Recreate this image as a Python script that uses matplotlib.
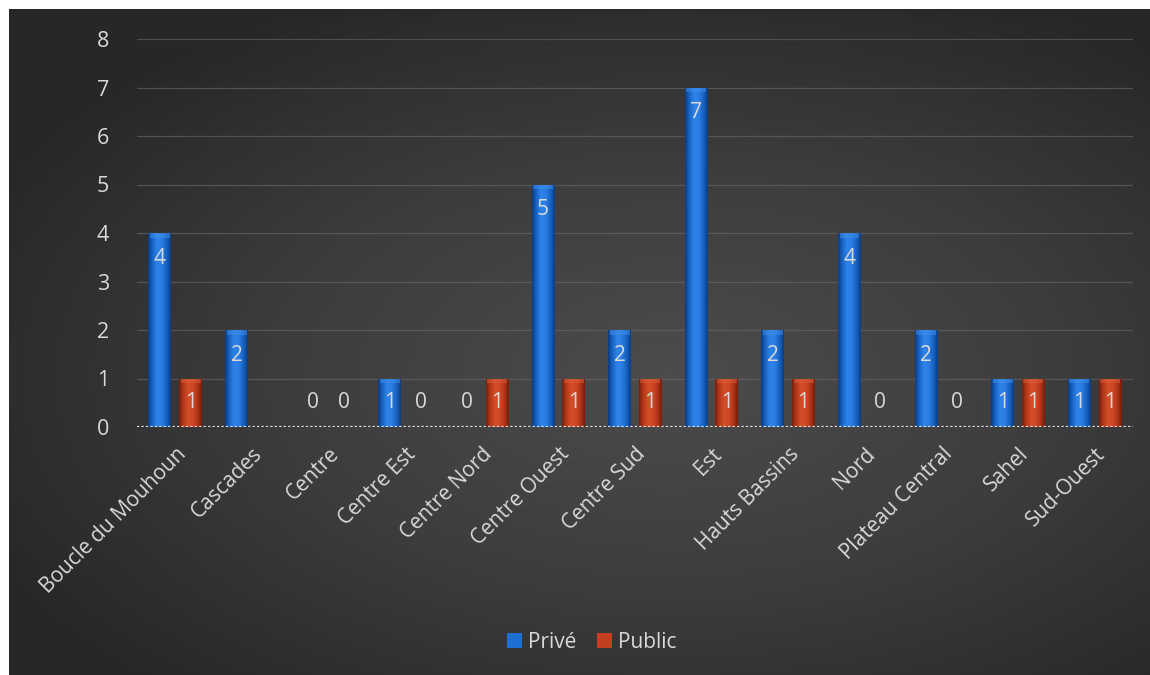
import numpy as np
import matplotlib.pyplot as plt
from matplotlib.colors import LinearSegmentedColormap

# Répartition par région (None = pas de valeur)
regions = ["Boucle du Mouhoun", "Cascades", "Centre", "Centre Est", "Centre Nord",
           "Centre Ouest", "Centre Sud", "Est", "Hauts Bassins", "Nord",
           "Plateau Central", "Sahel", "Sud-Ouest"]
prive = [4, 2, 0, 1, 0, 5, 2, 7, 2, 4, 2, 1, 1]
public = [1, None, 0, 0, 1, 1, 1, 1, 1, 0, 0, 1, 1]

TEXT = "#d9d9d9"
plt.rcParams["font.family"] = ["Open Sans", "DejaVu Sans"]

fig = plt.figure(figsize=(11.5, 6.75), dpi=100)
fig.patch.set_facecolor("white")

# dark radial gradient background
bg = fig.add_axes([9 / 1150, 0, 1 - 9 / 1150, 1 - 9 / 675])
bg.set_axis_off()
yy, xx = np.mgrid[0:1:300j, 0:1:500j]
r = np.sqrt(((xx - 0.58) / 0.9) ** 2 + ((yy - 0.55) / 0.85) ** 2)
bg_cmap = LinearSegmentedColormap.from_list("bg", ["#4c4c4c", "#3d3d3d", "#272727"])
bg.imshow(r, cmap=bg_cmap, aspect="auto", extent=[0, 1, 0, 1], vmin=0, vmax=0.75)
bg.set_xlim(0, 1)
bg.set_ylim(0, 1)

ax = fig.add_axes([137 / 1150, (675 - 427) / 675, (1133 - 137) / 1150, (427 - 39) / 675])
ax.patch.set_alpha(0)

x = np.arange(len(regions))
w = 0.3
off = 0.2

blue_cmap = LinearSegmentedColormap.from_list(
    "b", ["#0a3c84", "#1a66c8", "#2f84ea", "#2b7de4", "#1a64c4", "#0b3d84"])
red_cmap = LinearSegmentedColormap.from_list(
    "r", ["#7a1f0b", "#b83a1a", "#d44f29", "#ce4825", "#b3371a", "#781d0a"])

prive_h = [np.nan if v is None else v for v in prive]
public_h = [np.nan if v is None else v for v in public]
bars_p = ax.bar(x - off, prive_h, w, color="#1f6fd2", zorder=3, label="Privé")
bars_u = ax.bar(x + off, public_h, w, color="#c2401e", zorder=3, label="Public")

grad = np.linspace(0, 1, 64).reshape(1, -1)
for bars, cmap, top in ((bars_p, blue_cmap, "#3f90ec"), (bars_u, red_cmap, "#d85e3a")):
    for b in bars:
        h = b.get_height()
        if not h > 0:
            continue
        x0 = b.get_x()
        x1 = x0 + b.get_width()
        im = ax.imshow(grad, cmap=cmap, aspect="auto", extent=[x0, x1, 0, h], zorder=4)
        im.set_clip_path(b)
        # soft bevel at the top of each bar
        ax.fill_between([x0 + 0.02, x1 - 0.02], h - 0.1, h - 0.01, color=top,
                        alpha=0.5, zorder=5, linewidth=0)

# value labels near the top of each bar
for bars, vals in ((bars_p, prive), (bars_u, public)):
    for b, v in zip(bars, vals):
        if v is None:
            continue
        cx = b.get_x() + b.get_width() / 2
        ax.text(cx, max(v - 0.52, 0.5), str(v), ha="center", va="center",
                color=TEXT, fontsize=15, zorder=6)

ax.set_xlim(-0.5, len(regions) - 0.5)
ax.set_ylim(0, 8)
ax.set_yticks(range(0, 9))
ax.grid(axis="y", color="#6a6a6a", linewidth=0.9, alpha=0.6, zorder=0)
ax.axhline(0, color="#e0e0e0", linewidth=1.6, linestyle=(0, (1, 1)), zorder=7)

for s in ax.spines.values():
    s.set_visible(False)
ax.tick_params(axis="both", length=0, colors=TEXT, labelsize=15.5)
ax.tick_params(axis="y", pad=20)
ax.set_xticks(x)
ax.set_xticklabels(regions, rotation=45, ha="right", va="top",
                   rotation_mode="anchor", fontsize=15, color=TEXT)
ax.tick_params(axis="x", pad=12)

leg = fig.legend(handles=[bars_p, bars_u], labels=["Privé", "Public"], loc="center",
                 bbox_to_anchor=(592 / 1150, 1 - 642 / 675), ncol=2, frameon=False,
                 fontsize=15, labelcolor=TEXT, handlelength=0.7, handleheight=0.7,
                 handletextpad=0.3, columnspacing=1.0)

fig.savefig("out.png", dpi=100, facecolor=fig.get_facecolor())
